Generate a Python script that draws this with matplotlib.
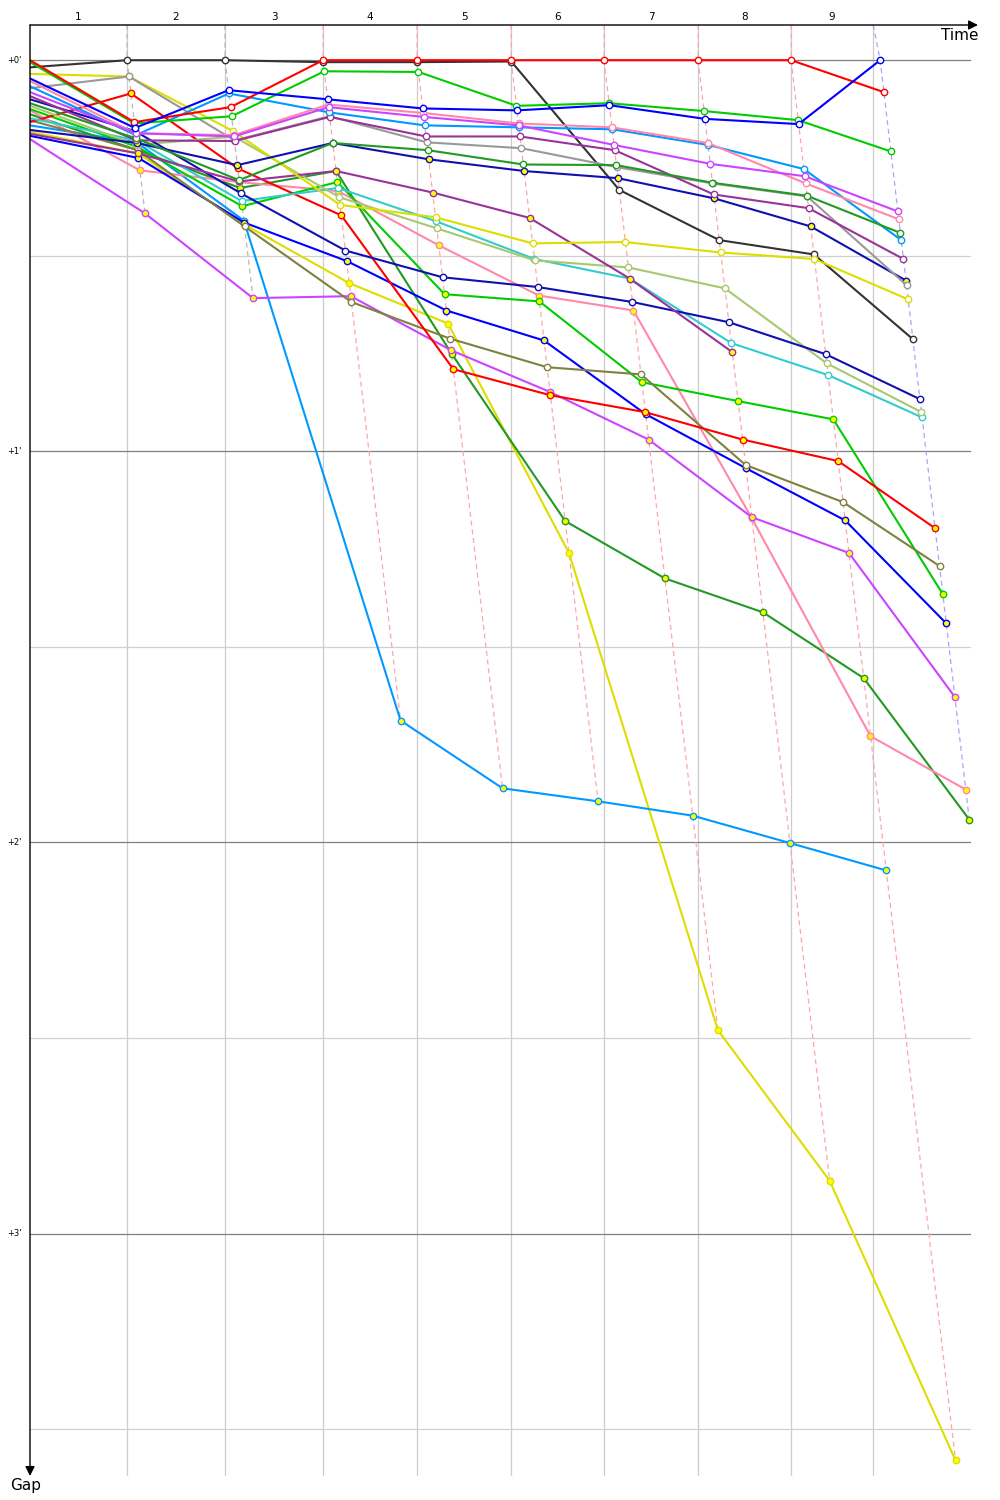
import matplotlib.pyplot as plt
import matplotlib.transforms as mtransforms
from matplotlib.colors import to_rgb

# leader's race time (s) at each lap line, and the reference the gaps are measured from
lap_lines = [126.8, 254.9, 383.0, 505.9, 628.8, 750.3, 873.2, 994.8, 1102.0]
lap_refs = [126.8, 254.9, 383.0, 505.9, 628.8, 750.3, 873.2, 994.8, 1111.1]
lap_labels = ["1", "2", "3", "4", "5", "6", "7", "8", "9"]
gap_ticks = [0, 60, 120, 180]
gap_tick_labels = ["+0'", "+1'", "+2'", "+3'"]

# gap to leader (s) at start and after each lap
gap_black = [1.1, 0, 0, 0.3, 0.3, 0.2, 19.9, 27.6, 29.8, 42.8]
gap_red_a = [0, 9.5, 7.2, 0, 0, 0, 0, 0, 0, 4.9]
gap_red_b = [9.5, 5.1, 16.6, 23.8, 47.4, 51.4, 54.0, 58.2, 61.5, 71.8]
gap_lime_a = [0.3, 9.7, 8.6, 1.7, 1.8, 7.0, 6.6, 7.8, 9.2, 14.0]
gap_lime_b = [7.5, 13.3, 22.4, 18.7, 35.9, 37.0, 49.4, 52.3, 55.1, 81.9]
gap_blue_a = [2.8, 10.4, 4.6, 6.0, 7.4, 7.7, 6.9, 9.0, 9.8, 0]
gap_blue_b = [11.6, 15.0, 24.9, 30.8, 38.4, 43.0, 54.3, 62.6, 70.6, 86.4]
gap_sky_a = [4.0, 11.5, 5.1, 8.0, 10.0, 10.3, 10.6, 13.0, 16.7, 27.6]
gap_sky_b = [10.0, 12.6, 24.6, 101.3, 111.7, 113.7, 115.9, 120.1, 124.3]
gap_violet_a = [4.9, 11.2, 11.7, 7.2, 8.7, 10.0, 13.0, 15.9, 17.8, 23.2]
gap_violet_b = [12.1, 23.5, 36.5, 36.2, 44.5, 50.9, 58.2, 70.1, 75.6, 97.7]
gap_pink_a = [3.2, 11.2, 11.5, 6.8, 8.1, 9.7, 10.3, 12.7, 18.9, 24.4]
gap_pink_b = [7.7, 16.9, 18.7, 20.1, 28.4, 36.1, 38.4, 70.3, 103.7, 111.9]
gap_gray = [4.3, 2.5, 12.3, 8.6, 12.6, 13.5, 16.4, 18.9, 20.9, 34.5]
gap_purple_a = [5.5, 12.3, 12.4, 8.7, 11.7, 11.7, 13.8, 20.6, 22.7, 30.5]
gap_purple_b = [11.3, 14.3, 18.6, 17.0, 20.3, 24.2, 33.5, 44.8]
gap_forest_a = [6.6, 12.0, 18.4, 12.7, 13.8, 16.0, 16.1, 18.8, 20.8, 26.5]
gap_forest_b = [8.3, 13.8, 19.6, 17.0, 45.0, 70.7, 79.5, 84.7, 94.8, 116.5]
gap_navy_a = [6.0, 10.9, 20.4, 29.2, 33.3, 34.8, 37.1, 40.2, 45.1, 52.0]
gap_navy_b = [10.7, 12.7, 16.1, 12.7, 15.2, 17.0, 18.1, 21.2, 25.5, 33.8]
gap_yellow_a = [2.1, 2.5, 10.9, 22.2, 24.1, 28.1, 27.9, 29.5, 30.5, 36.7]
gap_yellow_b = [11.0, 14.3, 25.2, 34.2, 40.4, 75.6, 148.8, 171.9, 214.8]
gap_olive = [9.2, 13.8, 25.5, 37.1, 42.7, 47.1, 48.2, 62.1, 67.8, 77.6]
gap_cyan = [8.9, 12.3, 21.6, 19.6, 24.7, 30.5, 33.5, 43.4, 48.3, 54.8]
gap_khaki = [7.0, 13.0, 11.7, 21.0, 25.8, 30.7, 31.8, 35.0, 46.5, 54.0]

# (gaps, line colour, marker fill)
drivers = [
    (gap_yellow_b, "#dddd00", "#ffff00"),
    (gap_sky_b, "#0099ff", "#ffff00"),
    (gap_forest_b, "#229922", "#ffff00"),
    (gap_pink_b, "#ff88aa", "#ffff00"),
    (gap_violet_b, "#cc44ff", "#ffff00"),
    (gap_blue_b, "#0000ff", "#ffff00"),
    (gap_lime_b, "#00cc00", "#ffff00"),
    (gap_olive, "#808040", "white"),
    (gap_red_b, "#ff0000", "#ffff00"),
    (gap_cyan, "#33cccc", "white"),
    (gap_khaki, "#a8c870", "white"),
    (gap_navy_a, "#1010b0", "white"),
    (gap_purple_b, "#993399", "#ffff00"),
    (gap_black, "#333333", "white"),
    (gap_yellow_a, "#dddd00", "white"),
    (gap_navy_b, "#1010b0", "#ffff00"),
    (gap_gray, "#999999", "white"),
    (gap_purple_a, "#993399", "white"),
    (gap_sky_a, "#0099ff", "white"),
    (gap_forest_a, "#229922", "white"),
    (gap_pink_a, "#ff88aa", "white"),
    (gap_violet_a, "#cc44ff", "white"),
    (gap_lime_a, "#00cc00", "white"),
    (gap_red_a, "#ff0000", "white"),
    (gap_blue_a, "#0000ff", "white"),
]

fig = plt.figure(figsize=(10, 15), dpi=100)
ax = fig.add_axes([0.03, 1 - 1476 / 1500, 0.948, 1451 / 1500])
x_max = 1239.0
y_top, y_bottom = -5.4, 217.2
ax.set_xlim(0, x_max)
ax.set_ylim(y_bottom, y_top)
ax.axis("off")

# grid
for t in lap_lines:
    ax.plot([t, t], [y_bottom - 0.2, y_top], color="#cccccc", lw=0.9, zorder=0)
for g in range(0, 211, 30):
    col = "#808080" if g % 60 == 0 else "#d0d0d0"
    ax.plot([0, 1228.8], [g, g], color=col, lw=0.9, zorder=0)

# lap lines through every car's crossing of that lap
for k in range(len(lap_lines)):
    pts = [(lap_refs[k] + d[0][k + 1], d[0][k + 1], d[1]) for d in drivers if len(d[0]) > k + 1]
    pts.sort(key=lambda p: p[1])
    lead = to_rgb(pts[0][2])
    col = tuple(0.35 * c + 0.65 for c in lead)
    ax.plot([lap_lines[k]] + [p[0] for p in pts], [y_top] + [p[1] for p in pts],
            color=col, lw=0.9, ls=(0, (4, 3)), zorder=1)

# cars
for gaps, col, fill in drivers:
    xs = [0] + [lap_refs[k] + g for k, g in enumerate(gaps[1:])]
    ax.plot(xs, gaps, color=col, lw=1.5, zorder=2,
            marker="o", markevery=list(range(1, len(gaps))),
            ms=4.6, mfc=fill, mec=col, mew=1.0)

# axis arrows
ax.annotate("", xy=(1, 1), xytext=(0, 1), xycoords="axes fraction",
            arrowprops=dict(arrowstyle="-|>", color="black", lw=1, mutation_scale=14,
                            shrinkA=0, shrinkB=0))
ax.annotate("", xy=(0, 0), xytext=(0, 1), xycoords="axes fraction",
            arrowprops=dict(arrowstyle="-|>", color="black", lw=1, mutation_scale=14,
                            shrinkA=0, shrinkB=0))
ax.text(0.981, 0.9928, "Time", transform=ax.transAxes, ha="center", va="center", fontsize=11)
ax.text(-0.005, -0.0065, "Gap", transform=ax.transAxes, ha="center", va="center", fontsize=11)

# labels
trans = mtransforms.blended_transform_factory(ax.transAxes, ax.transData)
for g, lab in zip(gap_ticks, gap_tick_labels):
    ax.text(-0.0165, g, lab, transform=trans, ha="center", va="center", fontsize=6)

trans_top = mtransforms.blended_transform_factory(ax.transData, ax.transAxes)
starts = [0] + lap_lines[:-1]
for a, b, lab in zip(starts, lap_lines, lap_labels):
    ax.text((a + b) / 2, 1.0058, lab, transform=trans_top, ha="center", va="center", fontsize=7.5)

fig.savefig("out.png", dpi=100)
